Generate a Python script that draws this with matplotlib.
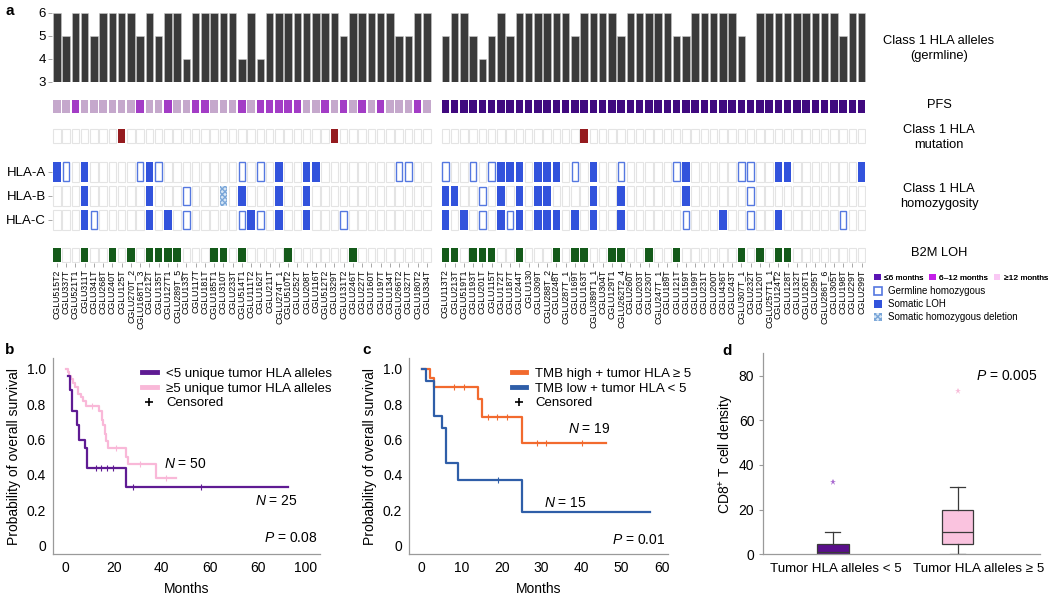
import numpy as np
import matplotlib
matplotlib.use("Agg")
import matplotlib.pyplot as plt
from matplotlib.patches import Rectangle, Patch
from matplotlib.lines import Line2D

plt.rcParams["font.family"] = ["Liberation Sans", "DejaVu Sans"]
plt.rcParams["mathtext.fontset"] = "custom"
plt.rcParams["mathtext.rm"] = "Liberation Sans"
plt.rcParams["mathtext.it"] = "Liberation Sans:italic"

# ---- panel a data ----
samples_long = ["CGLU515T2", "CGLU337T", "CGLU521T1", "CGLU311T", "CGLU341T", "CGLU268T",
                "CGLU240T", "CGLU125T", "CGLU270T_2", "CGLU168T1_3", "CGLU212T", "CGLU135T",
                "CGLU127T1", "CGLU289T_5", "CGLU133T", "CGLU117T", "CGLU181T", "CGLU185T1",
                "CGLU310T", "CGLU233T", "CGLU514T1", "CGLU111T2", "CGLU162T", "CGLU211T",
                "CGLU274T_1", "CGLU510T2", "CGLU252T", "CGLU208T", "CGLU116T", "CGLU512T2",
                "CGLU329T", "CGLU131T2", "CGLU246T", "CGLU227T", "CGLU160T", "CGLU197T",
                "CGLU134T", "CGLU266T2", "CGLU327T", "CGLU180T2", "CGLU334T"]
samples_short = ["CGLU113T2", "CGLU213T", "CGLU519T1", "CGLU193T", "CGLU201T", "CGLU115T",
                 "CGLU172T", "CGLU187T", "CGLU244T", "CGLU130", "CGLU309T", "CGLU288T_2",
                 "CGLU248T", "CGLU287T_1", "CGLU169T", "CGLU163T", "CGLU389T1_1", "CGLU304T",
                 "CGLU129T1", "CGLU262T2_4", "CGLU260T", "CGLU203T", "CGLU230T", "CGLU247T_1",
                 "CGLU189T", "CGLU121T", "CGLU159T", "CGLU199T", "CGLU231T", "CGLU200T",
                 "CGLU436T", "CGLU243T", "CGLU307T_1", "CGLU232T", "CGLU120T", "CGLU257T1_1",
                 "CGLU124T2", "CGLU128T", "CGLU132T", "CGLU126T1", "CGLU295T", "CGLU286T_6",
                 "CGLU305T", "CGLU198T", "CGLU229T", "CGLU299T"]

germline_long = [6, 5, 6, 6, 5, 6, 6, 6, 6, 5, 6, 5, 6, 6, 4, 6, 6, 6, 6, 6, 4,
                 6, 4, 6, 6, 6, 6, 6, 6, 6, 6, 5, 6, 6, 6, 6, 6, 5, 5, 6, 6]
germline_short = [5, 6, 6, 5, 4, 5, 6, 5, 6, 6, 6, 6, 6, 6, 5, 6, 6, 6, 6, 5, 6, 6, 6,
                  6, 6, 5, 5, 6, 6, 6, 6, 6, 5, np.nan, 6, 6, 6, 6, 6, 6, 6, 6, 6, 5, 6, 6]

# PFS: 0 = <=6 months, 1 = 6-12 months, 2 = >=12 months
pfs_long = [2, 2, 1, 2, 2, 2, 2, 2, 2, 1, 2, 2, 1, 2, 2, 1, 1, 2, 2, 2, 1,
            2, 1, 1, 1, 1, 1, 2, 2, 1, 2, 1, 2, 1, 2, 1, 2, 2, 2, 1, 2]
pfs_short = [0] * 46

mutation_long = [7, 30]
mutation_short = [15]

# HLA status: 1 = germline homozygous, 2 = somatic LOH, 3 = somatic homozygous deletion
hla_a_long = {0: 2, 1: 1, 3: 2, 10: 2, 24: 2, 27: 2, 28: 2,
              9: 1, 11: 1, 20: 1, 22: 1, 37: 1, 38: 1}
hla_a_short = {0: 1, 3: 1, 5: 1, 14: 1, 19: 1, 25: 1, 32: 1, 33: 1,
               6: 2, 7: 2, 8: 2, 10: 2, 11: 2, 12: 2, 16: 2, 26: 2, 36: 2, 37: 2, 45: 2}
hla_b_long = {3: 2, 10: 2, 20: 2, 24: 2, 27: 2, 14: 1, 18: 3}
hla_b_short = {0: 2, 1: 2, 6: 2, 8: 2, 10: 2, 11: 2, 16: 2, 19: 2, 26: 2, 4: 1, 33: 1}
hla_c_long = {3: 2, 10: 2, 12: 2, 21: 2, 24: 2, 27: 2, 4: 1, 14: 1, 20: 1, 22: 1, 31: 1}
hla_c_short = {0: 2, 2: 2, 6: 2, 8: 2, 10: 2, 11: 2, 12: 2, 14: 2, 16: 2, 19: 2, 30: 2, 36: 2,
               4: 1, 7: 1, 26: 1, 33: 1, 43: 1}

b2m_long = [0, 3, 6, 8, 10, 11, 12, 13, 17, 18, 20, 25, 32]
b2m_short = [0, 1, 3, 4, 5, 8, 12, 14, 15, 18, 19, 22, 25, 32, 34, 36, 37]

# ---- panel b data ----
lt5_t = [1, 1.8, 2.6, 4.6, 5.7, 7.9, 8.8, 25.0, 92.8]
lt5_s = [0.96, 0.88, 0.76, 0.68, 0.60, 0.55, 0.44, 0.33, 0.33]
lt5_cens_t = [12.5, 14.6, 17.1, 19.7, 27.9, 56.5]
ge5_t = [0, 1, 1.6, 2.4, 3.2, 4.0, 5.0, 6.2, 7.2, 8.4, 13.7, 15.0, 15.7, 16.4, 17.0, 17.8,
         25.0, 25.8, 37.5, 45.8]
ge5_s = [1.0, 0.98, 0.96, 0.94, 0.92, 0.90, 0.86, 0.84, 0.82, 0.79, 0.76, 0.71, 0.68, 0.63,
         0.59, 0.55, 0.50, 0.46, 0.38, 0.38]
ge5_cens_t = [11.0, 21.0, 31.0, 42.0]

# ---- panel c data ----
high_t = [0, 2, 3, 14, 15, 25, 46]
high_s = [1.0, 0.947, 0.895, 0.83, 0.73, 0.58, 0.58]
high_cens_t = [8.2, 10.6, 16.7, 18.8, 21.3, 28.9, 31.1, 40.2]
low_t = [0, 1, 3, 5, 6, 9, 25, 57]
low_s = [1.0, 0.933, 0.733, 0.667, 0.467, 0.373, 0.187, 0.187]
low_cens_t = [19.0]

# ---- panel d data ----
box_labels = ["Tumor HLA alleles < 5", "Tumor HLA alleles \u2265 5"]
box_q1 = [0.3, 4.7]
box_med = [1.0, 9.8]
box_q3 = [4.6, 19.9]
box_lo = [0, 0]
box_hi = [9.8, 30.2]
box_out = [[32.5], [73]]

# colours
C_BAR = "#3a3a3a"
C_PFS = ["#40097f", "#a33cc6", "#c5a8cc"]
C_PFS_LEG = ["#5a14b4", "#c41ee8", "#f9c8f4"]
C_MUT = "#951b1f"
C_BLUE = "#3253dc"
C_OPEN = "#5578e0"
C_GREEN = "#145a1a"
C_EMPTY = "#e4e4e4"
C_PURPLE = "#5f1b93"
C_PINK = "#f9b8d8"
C_ORANGE = "#f26a2e"
C_NAVY = "#2f5ea8"

W, H = 1050, 596
fig = plt.figure(figsize=(W / 100, H / 100), dpi=100)


def px_axes(left, top, right, bottom):
    return fig.add_axes([left / W, 1 - bottom / H, (right - left) / W, (bottom - top) / H])


def ftext(x, y, s, **kw):
    fig.text(x / W, 1 - y / H, s, **kw)


samples = samples_long + samples_short
n_long = len(samples_long)
pos = np.array([i if i < n_long else i + 1 for i in range(len(samples))])
germ = np.array(germline_long + germline_short, dtype=float)
pfs = pfs_long + pfs_short


def full_dict(d_long, d_short):
    out = dict(d_long)
    out.update({k + n_long: v for k, v in d_short.items()})
    return out


mutation = set(mutation_long) | {k + n_long for k in mutation_short}
b2m = set(b2m_long) | {k + n_long for k in b2m_short}
hla = {"A": full_dict(hla_a_long, hla_a_short),
       "B": full_dict(hla_b_long, hla_b_short),
       "C": full_dict(hla_c_long, hla_c_short)}

XL, XR = 52.2, 866.2
TW = 0.82

# germline bars
ax = px_axes(XL, 12.7, XR, 81.7)
ax.bar(pos, germ - 3, bottom=3, width=TW, color=C_BAR, edgecolor="#c8c8c8", linewidth=0.4)
ax.set_xlim(-0.5, pos[-1] + 0.5)
ax.set_ylim(3, 6)
ax.set_yticks([3, 4, 5, 6])
ax.set_xticks([])
for s in ax.spines.values():
    s.set_visible(False)
ax.tick_params(axis="y", length=3, width=0.6, color="#999999", labelsize=9.5, pad=1.5)

# tile rows (y axis in pixel units, downward)
at = px_axes(XL, 96, XR, 263)
at.set_xlim(-0.5, pos[-1] + 0.5)
at.set_ylim(263, 96)
for s in at.spines.values():
    s.set_visible(False)

rows = {"pfs": (100, 13.3), "mut": (129, 14), "A": (161.7, 20), "B": (186, 20),
        "C": (210, 20), "b2m": (248, 13.5)}


def tile(x, row, face, edge, lw=0.8, hatch=None):
    top, h = rows[row]
    at.add_patch(Rectangle((x - TW / 2, top), TW, h, facecolor=face, edgecolor=edge,
                           linewidth=lw, hatch=hatch))


for i, x in enumerate(pos):
    tile(x, "pfs", C_PFS[pfs[i]], "none", 0)
    if i in mutation:
        tile(x, "mut", C_MUT, "none", 0)
    else:
        tile(x, "mut", "white", C_EMPTY)
    for g in "ABC":
        st = hla[g].get(i, 0)
        if st == 2:
            tile(x, g, C_BLUE, "none", 0)
        elif st == 1:
            top, h = rows[g]
            at.add_patch(Rectangle((x - TW / 2 + 0.06, top + 0.6), TW - 0.12, h - 1.2,
                                   facecolor="white", edgecolor=C_OPEN, linewidth=1.0))
        elif st == 3:
            tile(x, g, "#d6e6f6", "#7aa6d8", 0, hatch="xxxxxx")
        else:
            tile(x, g, "white", C_EMPTY)
    if i in b2m:
        tile(x, "b2m", C_GREEN, "none", 0)
    else:
        tile(x, "b2m", "white", C_EMPTY)

at.set_yticks([rows[g][0] + rows[g][1] / 2 for g in "ABC"])
at.set_yticklabels(["HLA-A", "HLA-B", "HLA-C"], fontsize=9.5)
at.set_xticks(pos)
at.set_xticklabels(samples, rotation=90, fontsize=6.3)
at.tick_params(axis="both", length=3, width=0.6, color="#999999", pad=1.5)

ftext(5, 11, "a", fontsize=11, fontweight="bold", va="center")
for y, s in [(48.5, "Class 1 HLA alleles\n(germline)"), (105, "PFS"),
             (137.5, "Class 1 HLA\nmutation"), (196.5, "Class 1 HLA\nhomozygosity"),
             (253.5, "B2M LOH")]:
    ftext(939, y, s, fontsize=9.3, ha="center", va="center", linespacing=1.25)

leg1 = fig.legend(handles=[Patch(facecolor=c, edgecolor="none") for c in C_PFS_LEG],
                  labels=["\u22646 months", "6\u201312 months", "\u226512 months"],
                  loc="upper left", bbox_to_anchor=(874 / W, 1 - 274 / H), ncol=3,
                  fontsize=6, frameon=False, handlelength=0.8, handleheight=0.8,
                  handletextpad=0.4, columnspacing=0.7, borderpad=0, borderaxespad=0)
leg2 = fig.legend(handles=[Patch(facecolor="white", edgecolor=C_OPEN, linewidth=1.2),
                           Patch(facecolor=C_BLUE, edgecolor="none"),
                           Patch(facecolor="#d6e6f6", edgecolor="#7aa6d8", hatch="xxxxxx",
                                 linewidth=0)],
                  labels=["Germline homozygous", "Somatic LOH", "Somatic homozygous deletion"],
                  loc="upper left", bbox_to_anchor=(874 / W, 1 - 286.5 / H),
                  fontsize=7, frameon=False, handlelength=0.8, handleheight=0.8,
                  handletextpad=0.6, labelspacing=0.3, borderpad=0, borderaxespad=0)
fig.add_artist(leg1)


def style_km(a):
    for k in ("top", "right"):
        a.spines[k].set_visible(False)
    for k in ("left", "bottom"):
        a.spines[k].set_color("#9a9a9a")
        a.spines[k].set_linewidth(0.9)
    a.tick_params(length=0, labelsize=10, pad=5)
    a.set_ylim(-0.05, 1.06)
    a.set_yticks([0, 0.2, 0.4, 0.6, 0.8, 1.0])
    a.set_yticklabels(["0", "0.2", "0.4", "0.6", "0.8", "1.0"])
    a.set_ylabel("Probability of overall survival", fontsize=10, labelpad=4)
    a.set_xlabel("Months", fontsize=10, labelpad=5)


def km(a, t, s, color, cens, lw=1.6, z=2):
    a.step(t, s, where="post", color=color, lw=lw, zorder=z)
    cy = [s[np.searchsorted(t, c, side="right") - 1] for c in cens]
    a.plot(cens, cy, ls="none", marker="|", ms=4, mew=0.8, color=color, zorder=z)


def km_legend(a, colors, labels, x):
    a.legend(handles=[Line2D([], [], color=colors[0], lw=3.5),
                      Line2D([], [], color=colors[1], lw=3.5),
                      Line2D([], [], color="black", ls="none", marker="+", ms=6, mew=1.2)],
             labels=labels, loc="upper left", bbox_to_anchor=(x, 0.985), frameon=False,
             fontsize=9.5, handlelength=1.1, handletextpad=0.7, labelspacing=0.18,
             borderpad=0)


# panel b
axb = px_axes(52.7, 358.3, 320, 554.3)
style_km(axb)
km(axb, ge5_t, ge5_s, C_PINK, ge5_cens_t, z=2)
km(axb, lt5_t, lt5_s, C_PURPLE, lt5_cens_t, z=3)
axb.set_xlim(-5.4, 106)
axb.set_xticks([0, 20, 40, 60, 80, 100])
axb.set_xticklabels(["0", "20", "40", "60", "60", "100"])
km_legend(axb, [C_PURPLE, C_PINK],
          ["<5 unique tumor HLA alleles", "\u22655 unique tumor HLA alleles", "Censored"], 0.31)
axb.text(41, 0.46, "$N$ = 50", fontsize=10, va="center")
axb.text(79, 0.25, "$N$ = 25", fontsize=10, va="center")
axb.text(105, 0.04, "$P$ = 0.08", fontsize=10, va="center", ha="right")
ftext(5, 350, "b", fontsize=11, fontweight="bold", va="center")

# panel c
axc = px_axes(409.3, 358.3, 668, 554.3)
style_km(axc)
km(axc, high_t, high_s, C_ORANGE, high_cens_t)
km(axc, low_t, low_s, C_NAVY, low_cens_t)
axc.set_xlim(-3.1, 61.6)
axc.set_xticks([0, 10, 20, 30, 40, 50, 60])
km_legend(axc, [C_ORANGE, C_NAVY],
          ["TMB high + tumor HLA \u2265 5", "TMB low + tumor HLA < 5", "Censored"], 0.37)
axc.text(36.5, 0.66, "$N$ = 19", fontsize=10, va="center")
axc.text(30.5, 0.24, "$N$ = 15", fontsize=10, va="center")
axc.text(61, 0.03, "$P$ = 0.01", fontsize=10, va="center", ha="right")
ftext(362, 350, "c", fontsize=11, fontweight="bold", va="center")

# panel d
axd = px_axes(762.7, 353.3, 1040, 554.3)
stats = [dict(q1=box_q1[i], med=box_med[i], q3=box_q3[i], whislo=box_lo[i],
              whishi=box_hi[i], fliers=box_out[i]) for i in range(2)]
bp = axd.bxp(stats, positions=[1, 2], widths=0.254, patch_artist=True, capwidths=0.12,
             manage_ticks=False,
             boxprops=dict(edgecolor="#3a3a3a", linewidth=0.9),
             whiskerprops=dict(color="#3a3a3a", linewidth=0.9),
             capprops=dict(color="#3a3a3a", linewidth=0.9),
             medianprops=dict(color="#3a3a3a", linewidth=0.9),
             flierprops=dict(marker="*", markersize=5, markeredgewidth=0))
for b, fc in zip(bp["boxes"], ["#5a0f8c", "#fac3df"]):
    b.set_facecolor(fc)
for f, fl in zip(bp["fliers"], ["#a96ad0", "#f8bcd9"]):
    f.set_markerfacecolor(fl)
    f.set_markeredgecolor(fl)
axd.set_xlim(0.438, 2.66)
axd.set_ylim(0, 90)
axd.set_yticks([0, 20, 40, 60, 80])
# the category labels sit a little right of the boxes in the original
axd.set_xticks([1.022, 2.166])
axd.set_xticklabels(box_labels, fontsize=9.6)
for k in ("top", "right"):
    axd.spines[k].set_visible(False)
for k in ("left", "bottom"):
    axd.spines[k].set_color("#9a9a9a")
    axd.spines[k].set_linewidth(0.9)
axd.tick_params(axis="y", length=3, color="#9a9a9a", labelsize=10, pad=3)
axd.tick_params(axis="x", length=0, pad=6)
axd.set_ylabel("CD8$^{+}$ T cell density", fontsize=10, labelpad=2)
axd.text(2.64, 80, "$P$ = 0.005", fontsize=10, ha="right", va="center")
ftext(722, 351, "d", fontsize=11, fontweight="bold", va="center")

fig.savefig("out.png", dpi=100)
